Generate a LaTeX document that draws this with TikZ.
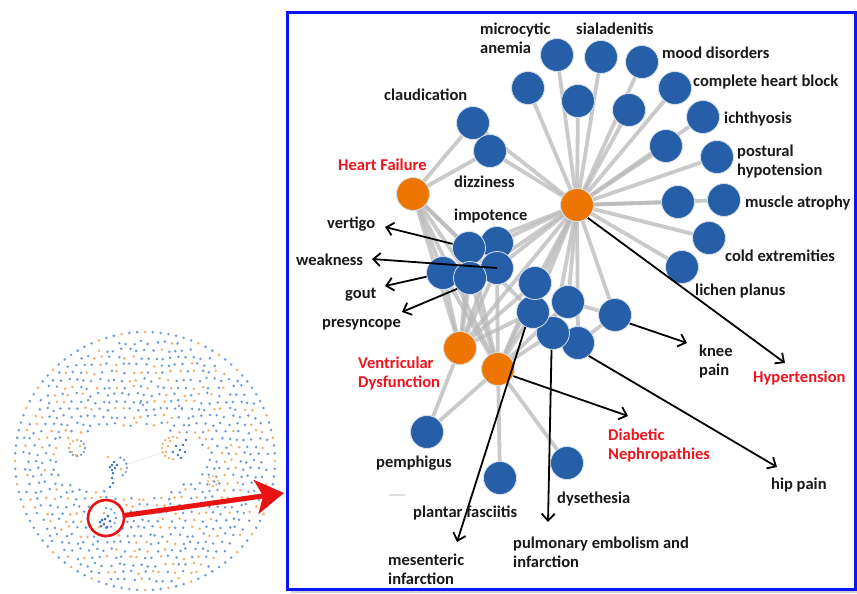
\documentclass[tikz,border=0pt]{standalone}
\usepackage{fontspec}
\setmainfont{Carlito}
\usetikzlibrary{arrows.meta,backgrounds}
\definecolor{nodeblue}{RGB}{38,94,168}
\definecolor{nodeorange}{RGB}{238,118,0}
\definecolor{edgegray}{RGB}{185,185,185}
\definecolor{labelred}{RGB}{240,20,30}
\definecolor{labelblack}{RGB}{25,25,25}
\definecolor{dotblue}{RGB}{110,155,212}
\definecolor{dotdark}{RGB}{60,110,185}
\definecolor{dotorange}{RGB}{242,172,100}
\definecolor{framblue}{RGB}{10,20,250}
\definecolor{arrred}{RGB}{232,18,18}
\begin{document}
\begin{tikzpicture}[x=1pt,y=-1pt,
  nd/.style={circle,minimum size=33pt,inner sep=0pt,draw=white!80!nodeblue,line width=0.8pt},
  bn/.style={nd,fill=nodeblue},
  on/.style={nd,fill=nodeorange},
  ed/.style={draw=edgegray,line width=3.8pt,opacity=0.75},
  ar/.style={draw=black,line width=1.8pt,-{Straight Barb[length=7pt,width=13pt,line width=1.8pt]}},
  lbl/.style={font=\fontsize{16.5}{19}\selectfont\bfseries,text=labelblack,inner sep=0pt,anchor=base west,align=left},
  rlbl/.style={lbl,text=labelred}
]
\useasboundingbox (0,0) rectangle (857,594);

% ---------- left overview panel ----------
\pgfmathsetseed{11}
\foreach \r in {0,...,35}{
  \foreach \c in {0,...,35}{
    \pgfmathsetmacro{\xx}{12+7.6*\c+3.8*mod(\r,2)+1.8*rand}
    \pgfmathsetmacro{\yy}{328+7.4*\r+1.8*rand}
    \pgfmathsetmacro{\dxo}{(\xx-145)/124}
    \pgfmathsetmacro{\dyo}{(\yy-461)/123}
    \pgfmathsetmacro{\dxa}{(\xx-132)/75}
    \pgfmathsetmacro{\dya}{(\yy-460)/33}
    \pgfmathsetmacro{\dxb}{(\xx-106)/17}
    \pgfmathsetmacro{\dyb}{(\yy-518)/17}
    \pgfmathsetmacro{\ex}{min(\dxa*\dxa+\dya*\dya,\dxb*\dxb+\dyb*\dyb)}
    \pgfmathsetmacro{\eo}{\dxo*\dxo+\dyo*\dyo}
    \pgfmathsetmacro{\cc}{mod(mod(\r*\r,17)*7+mod(\c*\c,17)*13+mod(\r*\c,17)*5+\c*3+\r,17)<5?1:0}
    \ifdim\eo pt<1pt
    \ifdim\ex pt>1pt
      \ifdim\cc pt>0.5pt
        \fill[dotorange] (\xx,\yy) circle[radius=1.4pt];
      \else
        \fill[dotblue] (\xx,\yy) circle[radius=1.4pt];
      \fi
    \fi
    \fi
  }
}
\foreach \k in {0,...,103}{
  \pgfmathsetmacro{\t}{\k*3.4615}
  \pgfmathsetmacro{\cc}{mod(mod(\k*\k,13)*7+\k*3,13)<4?1:0}
  \ifdim\cc pt>0.5pt
    \fill[dotorange] ({145+130*cos(\t)},{461+129*sin(\t)}) circle[radius=1.4pt];
  \else
    \fill[dotblue] ({145+130*cos(\t)},{461+129*sin(\t)}) circle[radius=1.4pt];
  \fi
}
% clusters
\draw[gray!20,line width=0.6pt] (125,465) -- (165,452);
\foreach \t in {0,30,60,90,120,150,300,330}
  \fill[dotblue] ({77+8*cos(\t)},{448+8*sin(\t)}) circle[radius=1.3pt];
\foreach \t in {180,210,240,270}
  \fill[dotorange] ({77+8*cos(\t)},{448+8*sin(\t)}) circle[radius=1.3pt];
\fill[dotorange] (72,452) circle[radius=1.3pt] (80,446) circle[radius=1.3pt] (76,455) circle[radius=1.3pt];
\foreach \t in {90,112,135,157,180,202,225,247,270,292}
  \fill[dotorange] ({173+11*cos(\t)},{448+11*sin(\t)}) circle[radius=1.3pt];
\fill[dotorange] (168,446) circle[radius=1.3pt] (170,441) circle[radius=1.3pt] (166,452) circle[radius=1.3pt];
\foreach \p in {(176,446),(180,450),(178,455),(173,452),(183,445),(185,452),(181,458),(186,440)}
  \fill[dotdark] \p circle[radius=1.4pt];
\foreach \p in {(112,465),(115,468),(112,470),(117,465),(114,462),(110,467),(113,473),(112,478),(113,483),(110,487)}
  \fill[dotdark] \p circle[radius=1.4pt];
\foreach \t in {-70,-45,-20,5,30,55}
  \fill[dotblue] ({117+10*cos(\t)},{467+10*sin(\t)}) circle[radius=1.3pt];
\fill[dotorange] (121,469) circle[radius=1.3pt] (108,457) circle[radius=1.3pt];
\foreach \t in {0,45,...,315}
  \fill[dotorange] ({213+5*cos(\t)},{481+5*sin(\t)}) circle[radius=1.2pt];
\fill[dotorange] (213,481) circle[radius=1.2pt];
\foreach \t in {-90,-60,-30,0,30,60,90}
  \fill[dotblue] ({106+10*cos(\t)},{518+10*sin(\t)}) circle[radius=1.3pt];
\foreach \p in {(102,520),(104,524),(100,522),(108,516),(105,519),(101,526),(110,521),(107,527)}
  \fill[dotdark] \p circle[radius=1.5pt];
\fill[dotorange] (104,513) circle[radius=1.3pt] (99,527) circle[radius=1.3pt];
\fill[dotblue] (141,401) circle[radius=1.3pt] (143,405) circle[radius=1.3pt]
  (179,406) circle[radius=1.3pt] (182,409) circle[radius=1.3pt];

\node[draw=arrred,circle,line width=2.6pt,minimum size=36pt,inner sep=0pt] (zoomc) at (106,518) {};
\coordinate (ztip) at (284,493);
\draw[arrred,line width=5pt,-{Stealth[length=28pt,width=34pt,inset=7pt]}] (zoomc) -- (ztip);

% ---------- frame ----------
\draw[gray!35,line width=1.5pt] (291,592) -- (857,592);
\draw[framblue,line width=3pt] (287,13) rectangle (855,589);

% ---------- network nodes ----------
\node[on] (hub) at (577,205) {};
\node[on] (hf) at (413,194) {};
\node[on] (v1) at (460,348) {};
\node[on] (v2) at (498,369) {};
\node[bn] (o1) at (557,55) {};
\node[bn] (o2) at (528,88) {};
\node[bn] (o3) at (578,101) {};
\node[bn] (o4) at (601,57) {};
\node[bn] (o5) at (642,62) {};
\node[bn] (o6) at (629,110) {};
\node[bn] (o7) at (675,88) {};
\node[bn] (o8) at (703,117) {};
\node[bn] (o9) at (666,146) {};
\node[bn] (o10) at (717,157) {};
\node[bn] (o11) at (678,202) {};
\node[bn] (o12) at (724,200) {};
\node[bn] (o13) at (709,238) {};
\node[bn] (o14) at (682,267) {};
\node[bn] (cl) at (473,123) {};
\node[bn] (dz) at (490,151) {};
\node[bn] (i2) at (497,243) {};
\node[bn] (i1) at (469,248) {};
\node[bn] (i3) at (443,273) {};
\node[bn] (i5) at (497,268) {};
\node[bn] (i4) at (470,278) {};
\node[bn] (kn) at (615,315) {};
\node[bn] (c5) at (578,343) {};
\node[bn] (c4) at (553,333) {};
\node[bn] (c2) at (568,302) {};
\node[bn] (c3) at (533,312) {};
\node[bn] (c1) at (535,283) {};
\node[bn] (pe) at (427,432) {};
\node[bn] (pf) at (500,478) {};
\node[bn] (dy) at (567,463) {};

\begin{pgfonlayer}{background}
\fill[white] (0,0) rectangle (857,594);
\foreach \n in {o1,o2,o3,o4,o5,o6,o7,o8,o9,o10,o11,o12,o13,o14,cl,dz,i1,i2,i4,i5,c1,c2,c3,c4,c5,kn,v1,v2}
  \draw[ed] (hub) -- (\n);
\foreach \n in {cl,dz,i1,i3,i4,v1,v2,c3}
  \draw[ed] (hf) -- (\n);
\foreach \n in {i1,i2,i3,i4,i5,c1,c3,pe}
  \draw[ed] (v1) -- (\n);
\foreach \n in {i1,i3,i4,i5,c1,c2,c3,c4,pe,pf,dy}
  \draw[ed] (v2) -- (\n);
\draw[ed] (kn) -- (c2);
\draw[ed] (kn) -- (c5);
\end{pgfonlayer}

% ---------- arrows ----------
\coordinate (tvert) at (385,227);
\coordinate (tweak) at (372,259);
\coordinate (tgout) at (385,286);
\coordinate (tpres) at (402,312);
\coordinate (tmes) at (457,542);
\coordinate (tpul) at (548,522);
\coordinate (tdia) at (628,416);
\coordinate (thip) at (777,467);
\coordinate (tkn) at (687,343);
\coordinate (thyp) at (785,363);
\draw[ar] (i1) -- (tvert);
\draw[ar] (i5.center) -- (tweak);
\draw[ar] (i3) -- (tgout);
\draw[ar] (i4.220) -- (tpres);
\draw[ar] (c3.243) -- (tmes);
\draw[ar] (c4.265) -- (tpul);
\draw[ar] (v2.-25) -- (tdia);
\draw[ar] (c5.-50) -- (thip);
\draw[ar] (kn.-30) -- (tkn);
\draw[ar] (hub.-50) -- (thyp);

\draw[gray!25,line width=1.2pt] (389,495) -- (405,495);

% ---------- labels ----------
\node[lbl] (lmicro) at (480,54) {microcytic\\anemia};
\node[lbl] (lsial) at (576,35) {sialadenitis};
\node[lbl] (lmood) at (662,59) {mood disorders};
\node[lbl] (lchb) at (693,86) {complete heart block};
\node[lbl] (lich) at (724,123) {ichthyosis};
\node[lbl] (lpost) at (737,175) {postural\\hypotension};
\node[lbl] (lmusc) at (745,207) {muscle atrophy};
\node[lbl] (lcold) at (725,261) {cold extremities};
\node[lbl] (llich) at (695,295) {lichen planus};
\node[lbl] (lclau) at (384,100) {claudication};
\node[rlbl] (lhf) at (338,170) {Heart Failure};
\node[lbl] (ldiz) at (454,187) {dizziness};
\node[lbl] (limp) at (454,220) {impotence};
\node[lbl] (lvert) at (327,228) {vertigo};
\node[lbl] (lweak) at (296,265) {weakness};
\node[lbl] (lgout) at (345,298) {gout};
\node[lbl] (lpres) at (322,327) {presyncope};
\node[rlbl] (lvd) at (358,387) {Ventricular\\Dysfunction};
\node[lbl] (lknee) at (699,375) {knee\\pain};
\node[rlbl] (lhyp) at (753,382) {Hypertension};
\node[rlbl] (ldn) at (608,459) {Diabetic\\Nephropathies};
\node[lbl] (lpem) at (376,467) {pemphigus};
\node[lbl] (lhip) at (771,489) {hip pain};
\node[lbl] (ldys) at (557,503) {dysethesia};
\node[lbl] (lpf) at (413,517) {plantar fasciitis};
\node[lbl] (lmes) at (388,584) {mesenteric\\infarction};
\node[lbl] (lpul) at (513,567) {pulmonary embolism and\\infarction};
\end{tikzpicture}
\end{document}
